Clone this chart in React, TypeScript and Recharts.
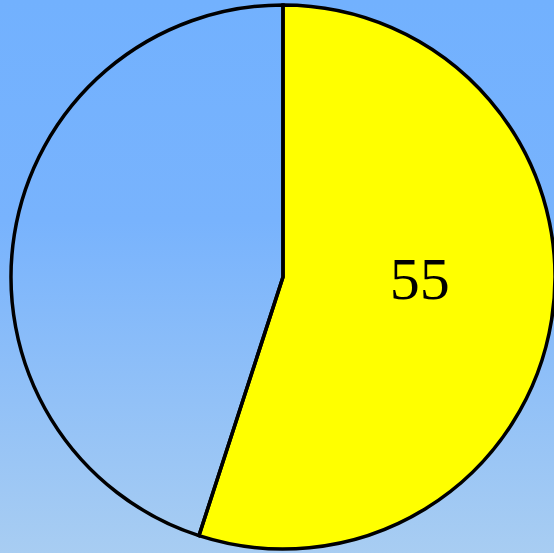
import React from 'react';
import { PieChart, Pie, Cell } from 'recharts';

const categories = ['Yes', 'No'];
const values = [55, 45];
const colors = ['#ffff00', 'none'];
const shownLabels = ['55', ''];

const data = categories.map((name, i) => ({ name, value: values[i] }));

const renderLabel = (props: any) => {
  const { cx, cy, outerRadius, index } = props;
  const text = shownLabels[index];
  if (!text) return null;
  return (
    <text
      x={cx + outerRadius * 0.503}
      y={cy + 2}
      fill="#000"
      textAnchor="middle"
      dominantBaseline="central"
      fontFamily="'Liberation Serif', 'DejaVu Serif', serif"
      fontSize={60}
    >
      {text}
    </text>
  );
};

export default function App() {
  return (
    <div
      style={{
        position: 'absolute',
        left: 0,
        top: 0,
        width: 554,
        height: 553,
        background: 'linear-gradient(to bottom, #72b1fe 0%, #78b3fd 40%, #a8cdf2 100%)',
      }}
    >
      <PieChart width={554} height={553} margin={{ top: 0, right: 0, bottom: 0, left: 0 }}>
        <Pie
          data={data}
          dataKey="value"
          nameKey="name"
          cx={283}
          cy={277}
          outerRadius={272}
          startAngle={90}
          endAngle={-270}
          stroke="#000"
          strokeWidth={3.5}
          label={renderLabel}
          labelLine={false}
          isAnimationActive={false}
        >
          {data.map((d, i) => (
            <Cell key={d.name} fill={colors[i]} stroke="#000" strokeWidth={3.5} />
          ))}
        </Pie>
      </PieChart>
    </div>
  );
}
